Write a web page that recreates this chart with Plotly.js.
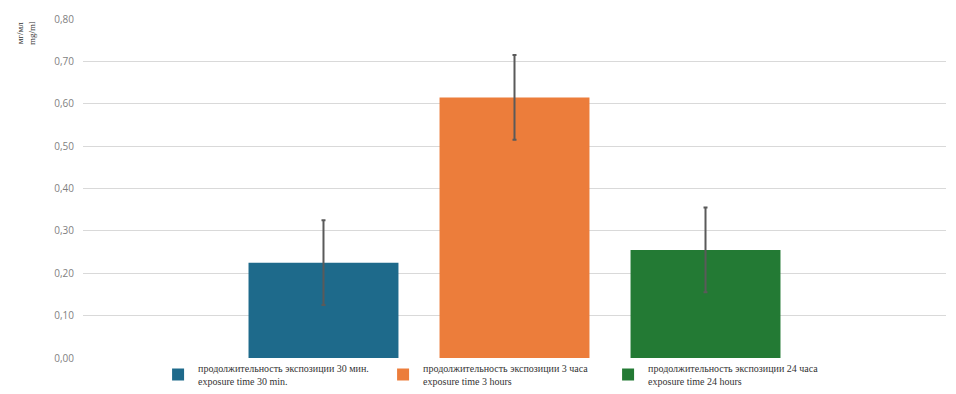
<!DOCTYPE html>
<html><head><meta charset="utf-8">
<script src="https://cdn.plot.ly/plotly-3.0.1.min.js"></script>
<style>body{margin:0;background:#fff}#c{width:956px;height:394px}</style>
</head><body><div id="c"></div>
<script>
const category = ['exposure'];
const seriesNames = [
  'продолжительность экспозиции 30 мин.<br>exposure time 30 min.',
  'продолжительность экспозиции 3 часа<br>exposure time 3 hours',
  'продолжительность экспозиции 24 часа<br>exposure time 24 hours'
];
const values = [0.225, 0.615, 0.255];
const errors = [0.10, 0.10, 0.10];
const colors = ['#1e6a8b', '#ec7d3b', '#237a34'];
const yTicks = [0, 0.1, 0.2, 0.3, 0.4, 0.5, 0.6, 0.7, 0.8];
const yTickLabels = ['0,00','0,10','0,20','0,30','0,40','0,50','0,60','0,70','0,80'];

const traces = seriesNames.map((n, i) => ({
  type: 'bar', name: n, x: category, y: [values[i]],
  marker: {color: colors[i]},
  error_y: {type: 'data', array: [errors[i]], visible: true, color: '#5a5a5a', thickness: 2, width: 2}
}));

const layout = {
  width: 956, height: 394,
  margin: {l: 83, r: 10, t: 19, b: 0},
  paper_bgcolor: '#fff', plot_bgcolor: '#fff',
  barmode: 'group', bargap: 0.336, bargroupgap: 0.215,
  showlegend: true,
  legend: {orientation: 'h', x: 0.087, xanchor: 'left', y: 0, yanchor: 'bottom',
    bgcolor: 'rgba(0,0,0,0)',
    font: {family: 'Liberation Serif, serif', size: 10, color: '#333'},
    entrywidth: 180, entrywidthmode: 'pixels', itemwidth: 30, tracegroupgap: 0, traceorder: 'normal'},
  xaxis: {showticklabels: false, showgrid: false, zeroline: false, showline: false, ticks: ''},
  yaxis: {domain: [0.096, 1], range: [0, 0.8], tickvals: yTicks, ticktext: yTickLabels,
    showgrid: true, gridcolor: '#d9d9d9', gridwidth: 1, zeroline: false,
    showline: false, ticks: '', ticklabelstandoff: 8,
    tickfont: {family: 'Open Sans, sans-serif', size: 10, color: '#7f7f7f'}},
  annotations: [{text: 'мг/мл<br>mg/ml', xref: 'paper', yref: 'paper', x: -0.066, y: 1.0,
    xanchor: 'center', yanchor: 'top', textangle: -90, showarrow: false,
    font: {family: 'Liberation Serif, serif', size: 9, color: '#333'}}]
};
Plotly.newPlot('c', traces, layout, {displayModeBar: false, staticPlot: true});
</script></body></html>
